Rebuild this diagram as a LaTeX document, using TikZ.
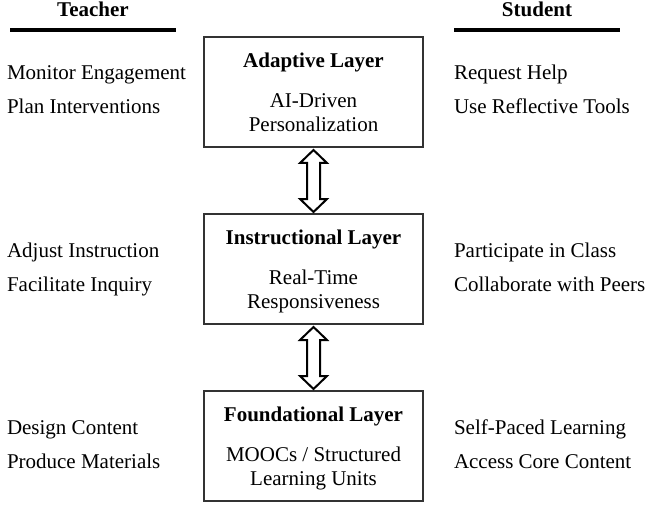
\documentclass[tikz,border=0pt]{standalone}
\usepackage{fontspec}
\setmainfont{Liberation Serif}
\usetikzlibrary{calc}
\begin{document}
\begin{tikzpicture}[x=1pt,y=-1pt,
  every node/.style={inner sep=0pt, outer sep=0pt, font=\fontsize{21}{24}\selectfont},
  hdr/.style={font=\fontsize{21}{24}\selectfont\bfseries, anchor=base},
  lbl/.style={anchor=base west},
  layerbox/.style={draw=black!80, line width=1.1pt, minimum width=219pt, minimum height=110pt, anchor=north},
  title/.style={font=\fontsize{21}{24}\selectfont\bfseries, anchor=base},
  body/.style={anchor=base},
  hline/.style={line width=4pt},
  dblarrow/.style={draw=black, line width=2pt, fill=white, line join=miter}
]
\useasboundingbox (0,0) rectangle (647,505);

% headers
\node[hdr] (teacher) at (93,17) {Teacher};
\node[hdr] (student) at (537,17) {Student};
\coordinate (tl1) at (10,30); \coordinate (tl2) at (176,30);
\coordinate (sl1) at (454,30); \coordinate (sl2) at (620,30);
\draw[hline] (tl1) -- (tl2);
\draw[hline] (sl1) -- (sl2);

% boxes
\node[layerbox] (b1) at (313.5,37) {};
\node[layerbox] (b2) at (313.5,214) {};
\node[layerbox] (b3) at (313.5,391) {};

% box texts
\node[title] (t1) at (313.5,68) {Adaptive Layer};
\node[body] (d1a) at (313.5,108) {AI-Driven};
\node[body] (d1b) at (313.5,132) {Personalization};

\node[title] (t2) at (313.5,244) {Instructional Layer};
\node[body] (d2a) at (313.5,284) {Real-Time};
\node[body] (d2b) at (313.5,308) {Responsiveness};

\node[title] (t3) at (313.5,421) {Foundational Layer};
\node[body] (d3a) at (313.5,461) {MOOCs / Structured};
\node[body] (d3b) at (313.5,485) {Learning Units};

% teacher column
\node[lbl] (l1a) at (7,80) {Monitor Engagement};
\node[lbl] (l1b) at (7,114) {Plan Interventions};
\node[lbl] (l2a) at (7,257) {Adjust Instruction};
\node[lbl] (l2b) at (7,291) {Facilitate Inquiry};
\node[lbl] (l3a) at (7,434) {Design Content};
\node[lbl] (l3b) at (7,468) {Produce Materials};

% student column
\node[lbl] (r1a) at (454,80) {Request Help};
\node[lbl] (r1b) at (454,114) {Use Reflective Tools};
\node[lbl] (r2a) at (454,257) {Participate in Class};
\node[lbl] (r2b) at (454,291) {Collaborate with Peers};
\node[lbl] (r3a) at (454,434) {Self-Paced Learning};
\node[lbl] (r3b) at (454,468) {Access Core Content};

% double arrows
\draw[dblarrow] ($(b1.south)+(0,3)$) -- ++(13.5,13) -- ++(-7,0) -- ($(b2.north)+(6.5,-15)$) -- ++(7,0) -- ($(b2.north)+(0,-2)$) -- ++(-13.5,-13) -- ++(7,0) -- ($(b1.south)+(-6.5,16)$) -- ++(-7,0) -- cycle;
\draw[dblarrow] ($(b2.south)+(0,3)$) -- ++(13.5,13) -- ++(-7,0) -- ($(b3.north)+(6.5,-15)$) -- ++(7,0) -- ($(b3.north)+(0,-2)$) -- ++(-13.5,-13) -- ++(7,0) -- ($(b2.south)+(-6.5,16)$) -- ++(-7,0) -- cycle;
\end{tikzpicture}
\end{document}
